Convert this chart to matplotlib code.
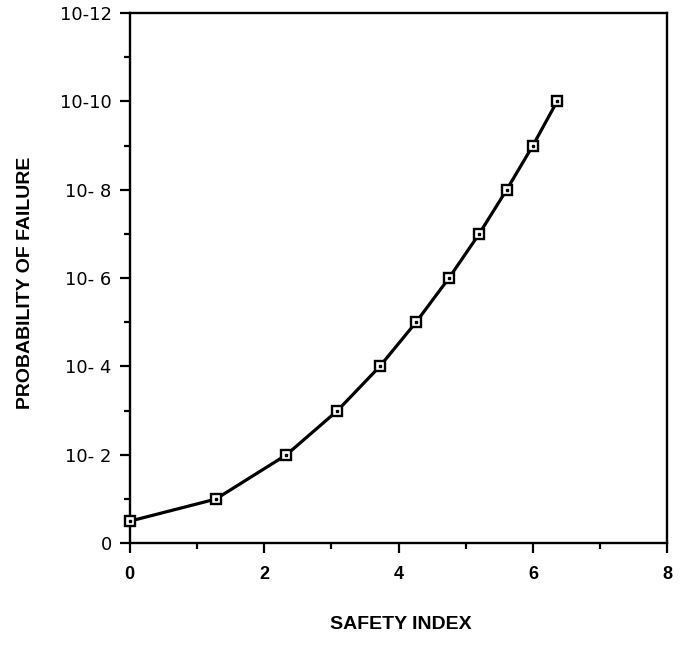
import matplotlib
matplotlib.use("Agg")
import matplotlib.pyplot as plt
import numpy as np

# safety index (beta) vs -log10 of failure probability
safetyIndex = [0.0, 1.28, 2.33, 3.09, 3.72, 4.26, 4.75, 5.20, 5.61, 6.00, 6.36]
failureExponent = [0.5, 1, 2, 3, 4, 5, 6, 7, 8, 9, 10]

xTicks = [0, 2, 4, 6, 8]
yTicks = [0, 2, 4, 6, 8, 10, 12]
yTickLabels = ["0", "10- 2", "10- 4", "10- 6", "10- 8", "10-10", "10-12"]

fig = plt.figure(figsize=(6.83, 6.46), dpi=100)
ax = fig.add_axes([0.190, 0.159, 0.787, 0.821])

# the curve with open square markers
ax.plot(safetyIndex, failureExponent, color='black', linewidth=2.3,
        marker='s', markersize=7, markerfacecolor='white',
        markeredgecolor='black', markeredgewidth=1.7, clip_on=False, zorder=3)
# little dot inside each square
ax.plot(safetyIndex, failureExponent, linestyle='none', marker='s',
        markersize=1.6, color='black', clip_on=False, zorder=4)

ax.set_xlim(0, 8)
ax.set_ylim(0, 12)

ax.set_xticks(xTicks)
ax.set_xticks([1, 3, 5, 7], minor=True)
ax.set_yticks(yTicks)
ax.set_yticks([1, 3, 5, 7, 9, 11], minor=True)
ax.set_yticklabels(yTickLabels, fontsize=13, family='DejaVu Sans')
ax.set_xticklabels([str(t) for t in xTicks], fontsize=13, fontweight='bold',
                   family='Liberation Sans')

ax.tick_params(axis='both', which='major', direction='out', length=7, width=1.6)
ax.tick_params(axis='both', which='minor', direction='out', length=4, width=1.6)
ax.tick_params(axis='x', pad=9)
ax.tick_params(axis='y', pad=6)

for spine in ax.spines.values():
    spine.set_linewidth(1.7)

# axis titles
fig.text(0.587, 0.020, "SAFETY INDEX", ha='center', va='bottom',
         fontsize=14, fontweight='bold', family='Liberation Sans')
fig.text(0.037, 0.562, "PROBABILITY OF FAILURE", ha='center', va='center',
         rotation=90, fontsize=14, fontweight='bold', family='Liberation Sans')

plt.savefig("out.png", dpi=100)
